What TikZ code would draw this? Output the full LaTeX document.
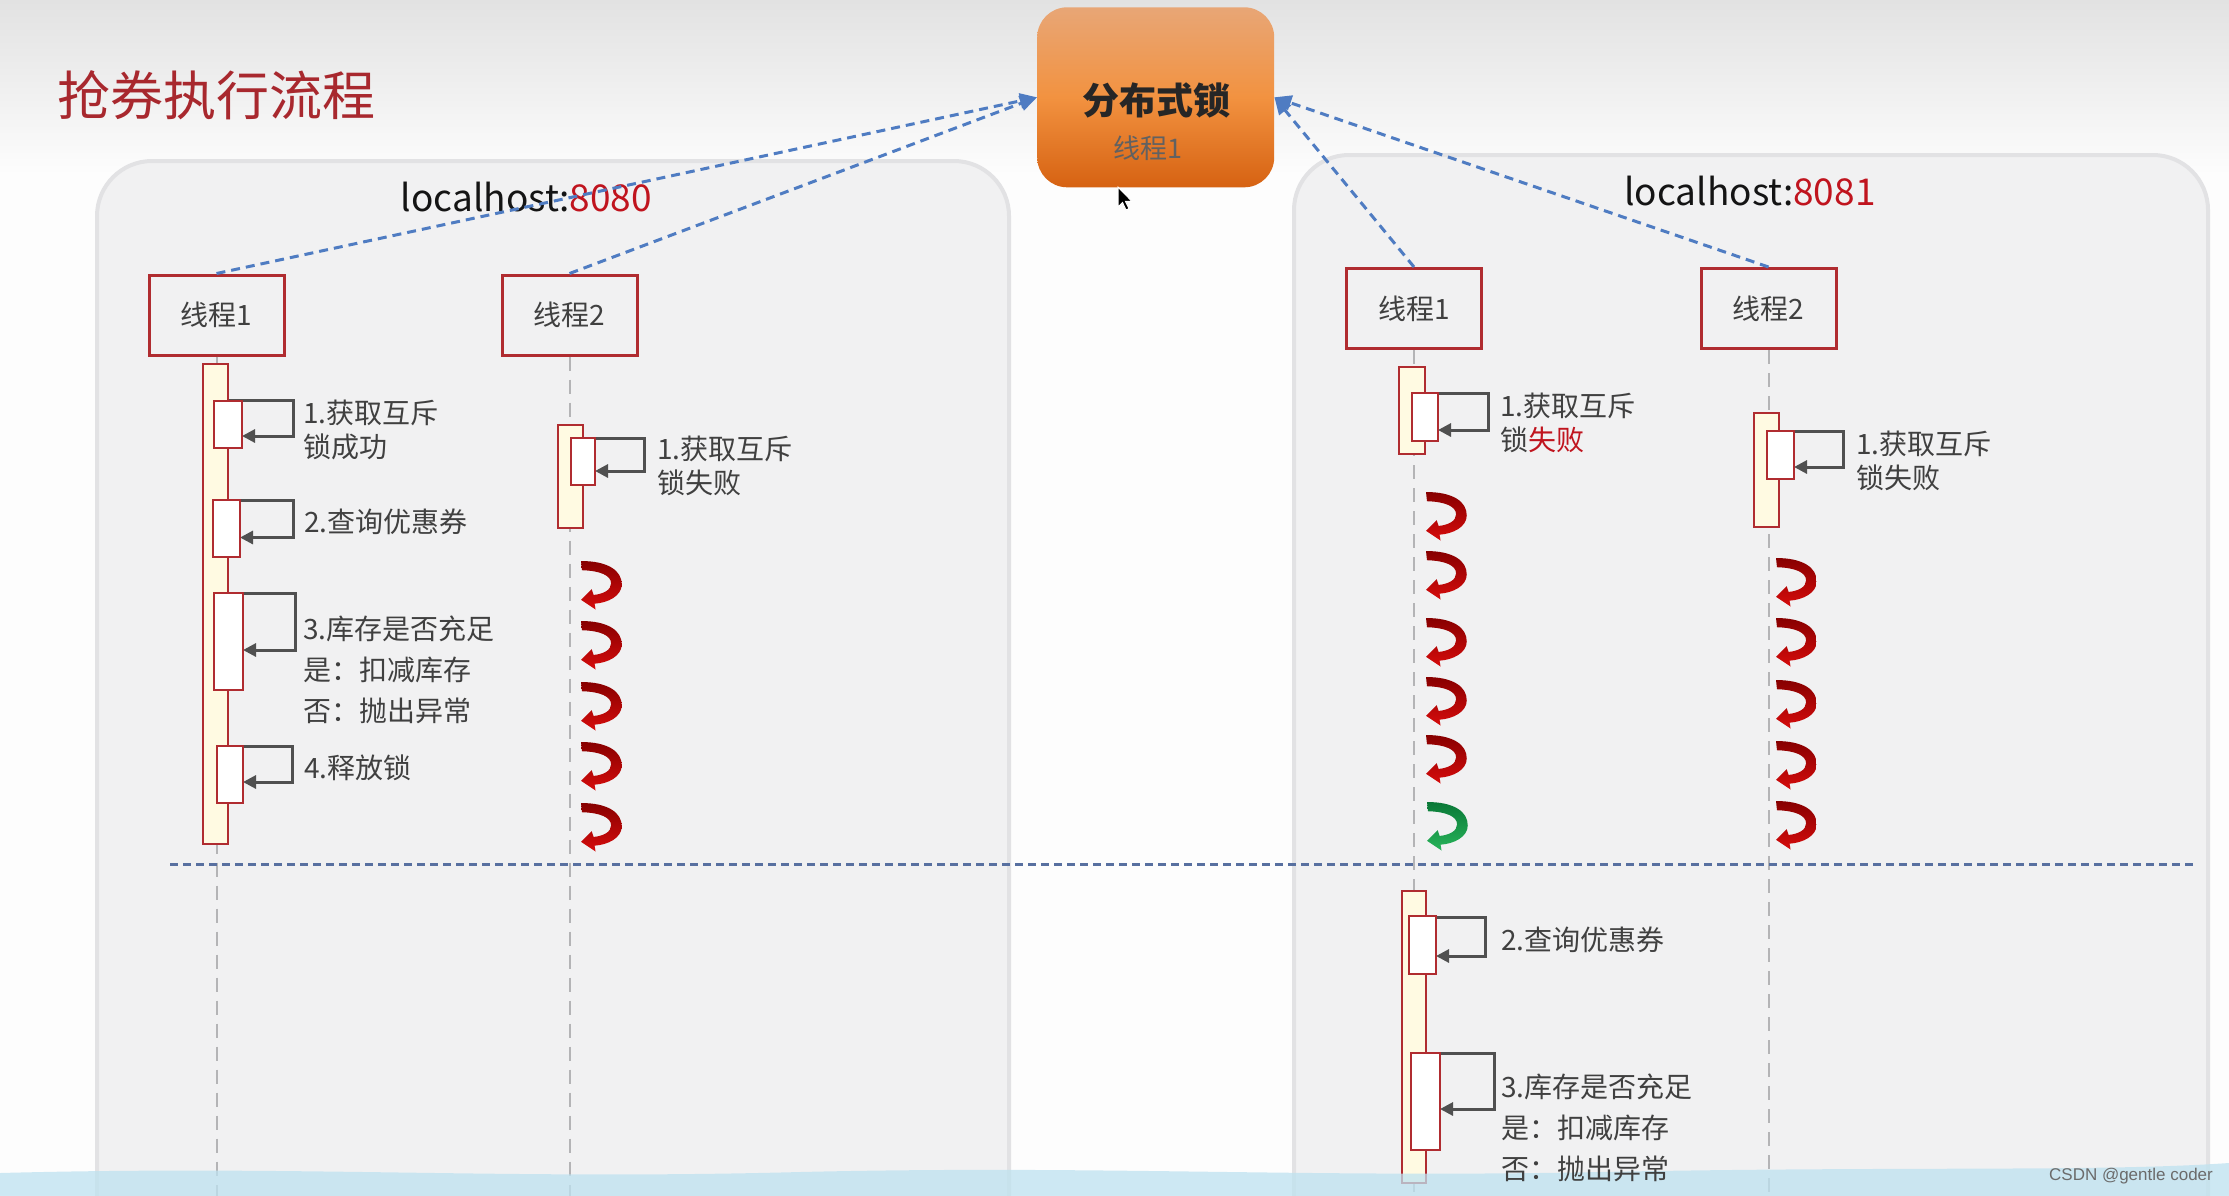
\documentclass[tikz,border=0pt]{standalone}
\usepackage{fontspec}
\setmainfont{Noto Sans CJK SC}
\newfontfamily\wmfont{Liberation Sans}
\usetikzlibrary{arrows.meta}
\definecolor{bgwhite}{RGB}{253,253,253}
\definecolor{topgray}{RGB}{226,226,226}
\definecolor{panelfill}{RGB}{241,241,242}
\definecolor{paneledge}{RGB}{226,226,228}
\definecolor{titlered}{RGB}{168,40,46}
\definecolor{portred}{RGB}{192,20,30}
\definecolor{boxred}{RGB}{176,44,48}
\definecolor{txtgray}{RGB}{64,64,64}
\definecolor{loopgray}{RGB}{80,80,80}
\definecolor{barfill}{RGB}{255,250,226}
\definecolor{connblue}{RGB}{79,124,194}
\definecolor{sepblue}{RGB}{88,112,160}
\definecolor{lifegray}{RGB}{180,180,182}
\definecolor{lockT}{RGB}{232,166,118}
\definecolor{lockM}{RGB}{242,146,64}
\definecolor{lockB}{RGB}{214,98,18}
\definecolor{arrD}{RGB}{135,0,0}
\definecolor{arrL}{RGB}{214,12,12}
\definecolor{grnD}{RGB}{10,120,55}
\definecolor{grnL}{RGB}{40,180,90}
\definecolor{wave}{RGB}{190,226,240}
\begin{document}
\begin{tikzpicture}[x=1pt,y=-1pt,
  panel/.style={draw=paneledge, line width=4pt, fill=panelfill, rounded corners=55pt},
  title/.style={font=\fontsize{53}{60}\selectfont, text=titlered, inner sep=0pt},
  host/.style={font=\fontsize{37}{40}\selectfont, text=black!92, inner sep=0pt},
  thread/.style={draw=boxred, line width=3pt, fill=panelfill, minimum width=135pt, minimum height=80pt, inner sep=0pt, font=\fontsize{28}{30}\selectfont, text=txtgray},
  actbar/.style={draw=boxred, line width=2.5pt, fill=barfill, inner sep=0pt, minimum width=25pt},
  actbox/.style={draw=boxred, line width=2.5pt, fill=white, inner sep=0pt},
  selfcall/.style={draw=loopgray, line width=3pt, -{Triangle[length=13pt,width=13pt]}},
  lbl/.style={font=\fontsize{28}{34}\selectfont, text=txtgray, inner sep=0pt, anchor=west, align=left},
  lblthree/.style={font=\fontsize{28}{41}\selectfont, text=txtgray, inner sep=0pt, anchor=west, align=left},
  lifeline/.style={draw=lifegray, line width=2pt, dash pattern=on 14pt off 9pt},
  conn/.style={draw=connblue, line width=3pt, dash pattern=on 9pt off 6pt, -{Triangle[length=17pt,width=15pt]}},
  sep/.style={draw=sepblue, line width=3pt, dash pattern=on 8pt off 5pt},
  redarrow/.style={top color=arrD, bottom color=arrL},
  greenarrow/.style={top color=grnD, bottom color=grnL},
  uturn/.pic={
    \path[pic actions, scale=0.97] (0,0) .. controls (28,0) and (42,10) .. (42,24)
      .. controls (42,36) and (28,43) .. (14,44)
      -- (15,50) -- (0,40) -- (11,29) -- (13,35)
      .. controls (23,34) and (31,30) .. (31,23)
      .. controls (31,15) and (20,10) .. (1,9.5) -- cycle;
  }
]
\useasboundingbox (0,0) rectangle (2229,1195);
\clip (0,0) rectangle (2229,1195);
% background
\fill[bgwhite] (0,0) rectangle (2229,1195);
\shade[top color=topgray, bottom color=bgwhite] (0,0) rectangle (2229,175);
% panels
\path[panel] (97,161) rectangle (1009,1320);
\path[panel] (1294,155) rectangle (2208,1320);
% title
\node[title, anchor=west] (title) at (57,95) {抢券执行流程};
% host labels
\node[host] (host1) at (526.5,197) {localhost:\textcolor{portred}{8080}};
\node[host] (host2) at (1750,191.5) {localhost:\textcolor{portred}{8081}};
% lock
\node[rounded corners=30pt, top color=lockT, bottom color=lockB, middle color=lockM, minimum width=237pt, minimum height=180pt, inner sep=0pt] (lock) at (1155.7,97.3) {};
\node[font=\fontsize{37}{40}\selectfont\bfseries, text=black!85, inner sep=0pt] (locktitle) at (1156,100) {分布式锁};
\node[font=\fontsize{27}{30}\selectfont, text=black!62, inner sep=0pt] (locksub) at (1148,148) {线程1};
% cursor
\filldraw[fill=black, draw=white, line width=1pt] (1118,187) -- ++(0,20) -- ++(4.5,-4.5) -- ++(3.5,7.5) -- ++(3,-1.4) -- ++(-3.5,-7.2) -- ++(6.5,0) -- cycle;
% thread boxes
\node[thread] (L1T) at (216.5,315) {线程1};
\node[thread] (L2T) at (569.5,315) {线程2};
\node[thread] (R1T) at (1414,308.5) {线程1};
\node[thread] (R2T) at (1768.5,308.5) {线程2};
\coordinate (bottom) at (0,1200);
% lifelines
\draw[lifeline] (L1T.south) -- (L1T.south |- bottom);
\draw[lifeline] (L2T.south) -- (L2T.south |- bottom);
\draw[lifeline] (R1T.south) -- (R1T.south |- bottom);
\draw[lifeline] (R2T.south) -- (R2T.south |- bottom);
% connectors to lock
\draw[conn] (L1T.north) -- (lock.west);
\draw[conn] (L2T.north) -- (lock.west);
\draw[conn] (R1T.north) -- (lock.east);
\draw[conn] (R2T.north) -- (lock.east);
% activation bars
\node[actbar, minimum height=480pt] (L1bar) at (215.5,604) {};
\node[actbar, minimum height=103pt] (L2bar) at (570.5,476.5) {};
\node[actbar, minimum width=26pt, minimum height=87pt] (R1bar) at (1412,410.5) {};
\node[actbar, minimum width=24pt, minimum height=292pt] (R1barb) at (1414,1037) {};
\node[actbar, minimum height=114pt] (R2bar) at (1766.5,470) {};
% self calls (lines)
\draw[selfcall] (L1bar.east |- 0,400) -- ++(64,0) |- (242,436);
\draw[selfcall] (L1bar.east |- 0,500) -- ++(64,0) |- (240,537.5);
\draw[selfcall] (L1bar.east |- 0,593) -- ++(66,0) |- (243,650);
\draw[selfcall] (L1bar.east |- 0,746) -- ++(63,0) |- (243,782);
\draw[selfcall] (L2bar.east |- 0,438) -- ++(60,0) |- (595,471);
\draw[selfcall] (R1bar.east |- 0,393) -- ++(62,0) |- (1438,430);
\draw[selfcall] (R2bar.east |- 0,431) -- ++(63,0) |- (1794,467);
\draw[selfcall] (R1barb.east |- 0,917) -- ++(58,0) |- (1436,956);
\draw[selfcall] (R1barb.east |- 0,1053) -- ++(67,0) |- (1440,1109);
% inner boxes
\node[actbox, minimum width=28pt, minimum height=47pt] (L1a) at (228,424.5) {};
\node[actbox, minimum width=27pt, minimum height=57pt] (L1b) at (226.5,528.5) {};
\node[actbox, minimum width=29pt, minimum height=97pt] (L1c) at (228.5,641.5) {};
\node[actbox, minimum width=26pt, minimum height=57pt] (L1d) at (230,774.5) {};
\node[actbox, minimum width=24pt, minimum height=47pt] (L2a) at (583,461.5) {};
\node[actbox, minimum width=26pt, minimum height=48pt] (R1a) at (1425,417) {};
\node[actbox, minimum width=27pt, minimum height=48pt] (R2a) at (1780.5,455) {};
\node[actbox, minimum width=27pt, minimum height=58pt] (R1b) at (1422.5,945) {};
\node[actbox, minimum width=29pt, minimum height=97pt] (R1c) at (1425.5,1101.5) {};
% retry arrows
\foreach \yy in {561,621,682,742,803} \pic[redarrow] at (581,\yy) {uturn};
\foreach \yy in {492,551,618,677,735} \pic[redarrow] at (1426,\yy) {uturn};
\pic[greenarrow] at (1427,802) {uturn};
\foreach \yy in {558,618,680,741,801} \pic[redarrow] at (1776,\yy) {uturn};
% separator
\coordinate (sepL) at (170,864);
\coordinate (sepR) at (2197,864);
\draw[sep] (sepL) -- (sepR);
% wave
\fill[wave, opacity=0.75] (0,1173) .. controls (300,1165) and (500,1180) .. (800,1172)
  .. controls (1100,1165) and (1300,1178) .. (1600,1172)
  .. controls (1900,1166) and (2100,1172) .. (2229,1163) -- (2229,1200) -- (0,1200) -- cycle;
% labels
\node[lbl] (t1) at (303,430) {1.获取互斥\\锁成功};
\node[lbl] (t2) at (304,522) {2.查询优惠券};
\node[lblthree] (t3) at (303,670) {3.库存是否充足\\是：扣减库存\\否：抛出异常};
\node[lbl] (t4) at (304,768) {4.释放锁};
\node[lbl] (t5) at (657,466) {1.获取互斥\\锁失败};
\node[lbl] (t6) at (1500,423) {1.获取互斥\\锁\textcolor{portred}{失败}};
\node[lbl] (t7) at (1856,461) {1.获取互斥\\锁失败};
\node[lbl] (t8) at (1501,940) {2.查询优惠券};
\node[lblthree] (t9) at (1501,1128) {3.库存是否充足\\是：扣减库存\\否：抛出异常};
% watermark
\node[font=\wmfont\fontsize{17}{18}\selectfont, text=black!58, inner sep=0pt] (wm) at (2131,1176) {CSDN @gentle coder};
\end{tikzpicture}
\end{document}
